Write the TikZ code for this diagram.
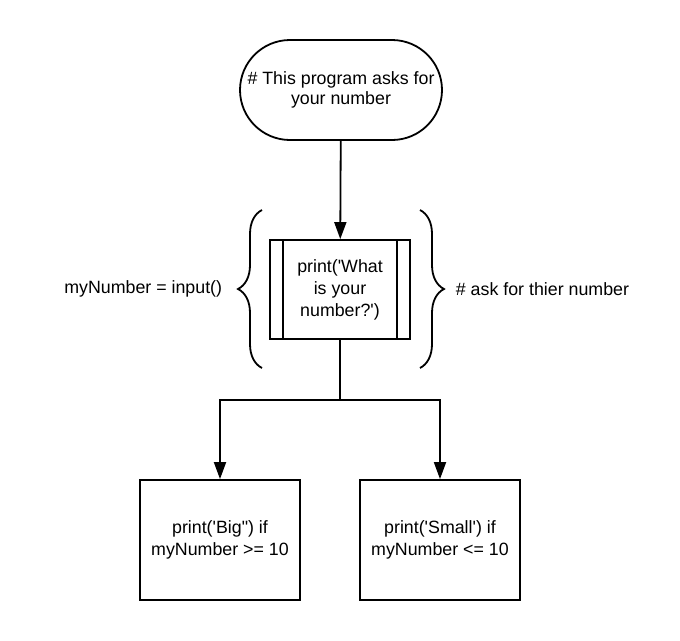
\documentclass[tikz,border=0pt]{standalone}
\usepackage{fontspec}
\setmainfont{Liberation Sans}
\usetikzlibrary{arrows.meta,decorations.pathreplacing}

\begin{document}
\begin{tikzpicture}[x=1pt, y=-1pt, line width=1.8pt,
every node/.style={font=\fontsize{17.8}{22}\selectfont, align=center},
terminal/.style={draw, rounded corners=50pt, minimum width=202pt, minimum height=100pt},
procbox/.style={draw, minimum width=140pt, minimum height=99pt, inner sep=0pt},
outbox/.style={draw, minimum width=160pt, minimum height=120pt, inner sep=0pt},
arrow/.style={-{Triangle[width=12pt,length=17pt]}},
curly/.style={decorate, decoration={brace, amplitude=24pt}}
]
\useasboundingbox (0,0) rectangle (680,640);
%\draw[help lines] (0,0) grid (680,640);

% top
\node[terminal] (start) at (341,90) {\raisebox{3pt}{\shortstack{\# This program asks for\\[1pt]your number}}};

% asking step
\node[procbox] (ask) at (340,289.5) {print(\textquotesingle What\\is your\\number?\textquotesingle)};
\draw ([xshift=14pt]ask.north west) -- ([xshift=14pt]ask.south west);
\draw ([xshift=-14pt]ask.north east) -- ([xshift=-14pt]ask.south east);
\draw[arrow] (start) -- (ask);

% comments on both sides
\draw[curly] (262,368) -- (262,210);
\draw[curly] (420,210) -- (420,368);
\node[anchor=east, inner sep=0pt] (code) at (223,289) {myNumber = input()};
\node[anchor=west, inner sep=0pt] (note) at (455,289) {\# ask for thier number};

% the two outputs
\node[outbox] (big) at (220,540) {print(\textquotesingle Big\textquotedbl) if\\myNumber >= 10};
\node[outbox] (small) at (440,540) {print(\textquotesingle Small\textquotesingle) if\\myNumber <= 10};
\coordinate (split) at (340,400);
\draw (ask) -- (split);
\draw[arrow] (split) -| (big);
\draw[arrow] (split) -| (small);
\end{tikzpicture}
\end{document}
